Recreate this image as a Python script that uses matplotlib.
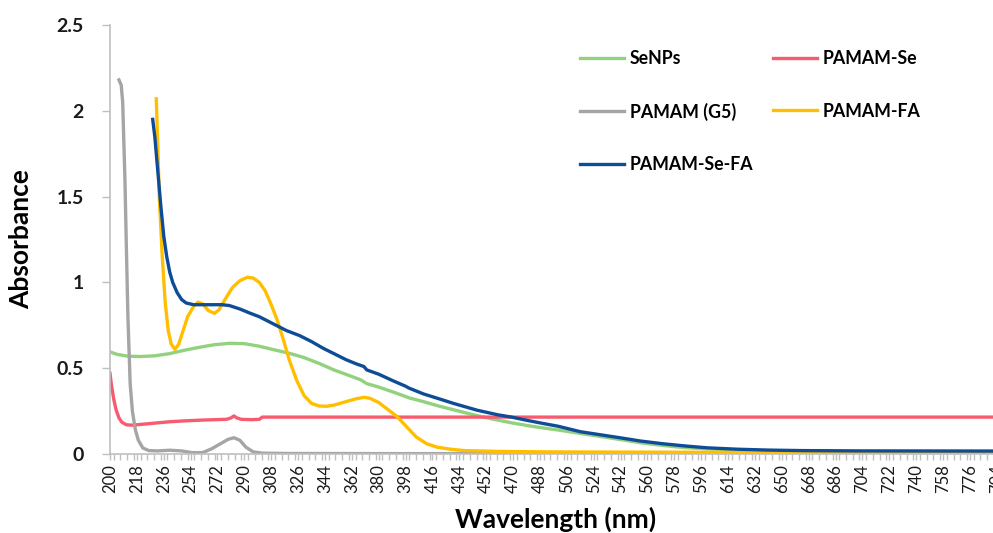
import numpy as np
import matplotlib
matplotlib.use('Agg')
import matplotlib.pyplot as plt
from matplotlib.ticker import MultipleLocator

plt.rcParams['font.family'] = ['Lato', 'DejaVu Sans']

# values (wavelength nm, absorbance)
senps_wl = [200, 205, 212, 220, 230, 240, 250, 260, 270, 280, 290, 300, 310, 320, 330,
            340, 350, 360, 368, 372, 380, 390, 398, 400, 410, 420, 430, 440, 450, 460,
            470, 480, 490, 500, 515, 530, 545, 555, 570, 585, 600, 620, 650, 700, 791]
senps_abs = [0.595, 0.58, 0.57, 0.568, 0.572, 0.585, 0.605, 0.622, 0.637, 0.645, 0.643, 0.628,
             0.607, 0.587, 0.562, 0.528, 0.49, 0.458, 0.432, 0.41, 0.39, 0.36, 0.335, 0.328,
             0.305, 0.28, 0.258, 0.236, 0.215, 0.197, 0.18, 0.165, 0.152, 0.14, 0.12, 0.1,
             0.08, 0.066, 0.05, 0.037, 0.03, 0.022, 0.017, 0.015, 0.015]

pse_wl = [200, 201, 202.5, 204, 206, 208, 211, 215, 220, 230, 240, 250, 260, 270, 278,
          281, 283, 285, 288, 295, 300, 302, 400, 600, 791]
pse_abs = [0.47, 0.4, 0.32, 0.26, 0.21, 0.185, 0.17, 0.168, 0.172, 0.18, 0.188, 0.193,
           0.197, 0.2, 0.202, 0.21, 0.222, 0.21, 0.202, 0.2, 0.202, 0.215, 0.215, 0.215, 0.215]

g5_wl = [206, 207.5, 208.5, 210, 211, 212, 213.5, 215, 217, 219, 222, 226, 232, 240, 248,
         255, 262, 268, 274, 279, 283, 287, 291, 296, 302, 320, 400, 500, 600, 700, 791]
g5_abs = [2.18, 2.15, 2.05, 1.6, 1.19, 0.8, 0.41, 0.25, 0.14, 0.08, 0.035, 0.02, 0.018, 0.022,
          0.018, 0.008, 0.008, 0.03, 0.06, 0.085, 0.095, 0.08, 0.04, 0.012, 0.005, 0.003,
          0.002, 0.002, 0.002, 0.002, 0.002]

pfa_wl = [231, 232, 233, 235, 237, 239, 241, 243.5, 246, 249, 252, 256, 259, 262, 266, 270,
          273, 277, 282, 287, 292, 296, 300, 304, 308, 312, 316, 320, 325, 330, 335, 340,
          345, 350, 358, 365, 370, 374, 380, 386, 392, 398, 405, 412, 419, 428, 437, 460,
          500, 600, 700, 791]
pfa_abs = [2.07, 1.8, 1.5, 1.15, 0.88, 0.72, 0.64, 0.61, 0.64, 0.72, 0.8, 0.86, 0.885, 0.875,
           0.835, 0.82, 0.84, 0.9, 0.97, 1.01, 1.03, 1.025, 1.0, 0.95, 0.87, 0.78, 0.67, 0.55,
           0.43, 0.34, 0.295, 0.28, 0.278, 0.285, 0.305, 0.322, 0.33, 0.325, 0.3, 0.26, 0.22,
           0.165, 0.1, 0.06, 0.04, 0.028, 0.02, 0.015, 0.012, 0.01, 0.008, 0.008]

psefa_wl = [228.6, 230, 232, 234, 236, 238, 240, 242, 245, 248, 251, 256, 265, 275, 280, 287,
            294, 300, 309, 318, 327, 335, 343, 350, 358, 365, 370, 372, 380, 390, 398, 400,
            410, 421, 430, 446, 460, 469, 480, 490, 500, 515, 530, 545, 555, 570, 585, 600,
            620, 640, 662, 700, 791]
psefa_abs = [1.95, 1.85, 1.65, 1.45, 1.27, 1.15, 1.06, 1.0, 0.94, 0.9, 0.88, 0.87, 0.87, 0.87,
             0.865, 0.845, 0.82, 0.8, 0.76, 0.72, 0.69, 0.655, 0.615, 0.585, 0.55, 0.525, 0.51,
             0.49, 0.465, 0.425, 0.395, 0.385, 0.35, 0.32, 0.295, 0.255, 0.228, 0.215, 0.195,
             0.178, 0.162, 0.13, 0.11, 0.09, 0.076, 0.06, 0.047, 0.036, 0.028, 0.023, 0.02,
             0.018, 0.017]

xticks = list(range(200, 800, 18))

fig = plt.figure(figsize=(9.93, 5.33), dpi=100)
ax = fig.add_axes([110 / 993, 79 / 533, 895.8 / 993, 429 / 533])

lw = 2.4
l1, = ax.plot(senps_wl, senps_abs, color='#92D27E', lw=lw, label='SeNPs')
l2, = ax.plot(pse_wl, pse_abs, color='#F75B70', lw=lw, label='PAMAM-Se')
l3, = ax.plot(g5_wl, g5_abs, color='#A5A5A5', lw=lw, label='PAMAM (G5)')
l4, = ax.plot(pfa_wl, pfa_abs, color='#FFBF00', lw=lw, label='PAMAM-FA')
l5, = ax.plot(psefa_wl, psefa_abs, color='#0E4C97', lw=lw, label='PAMAM-Se-FA')

ax.set_xlim(200, 800)
ax.set_ylim(0, 2.5)
ax.set_xticks(xticks)
ax.set_xticklabels([str(t) for t in xticks], rotation=90, fontsize=12)
ax.xaxis.set_minor_locator(MultipleLocator(4.5))
ax.set_yticks([0, 0.5, 1, 1.5, 2, 2.5])
ax.set_yticklabels(['0', '0.5', '1', '1.5', '2', '2.5'], fontsize=14, fontweight='bold')

for s in ['top', 'right']:
    ax.spines[s].set_visible(False)
for s in ['left', 'bottom']:
    ax.spines[s].set_color('#BFBFBF')
    ax.spines[s].set_linewidth(1.2)
ax.tick_params(axis='both', which='both', length=4, width=1, colors='#BFBFBF')
ax.tick_params(axis='y', length=6)
ax.tick_params(axis='both', labelcolor='#1a1a1a')
ax.tick_params(axis='x', pad=3)
ax.tick_params(axis='y', pad=13)

ax.set_xlabel('Wavelength (nm)', fontsize=19, fontweight='bold')
ax.set_ylabel('Absorbance', fontsize=19, fontweight='bold')
ax.xaxis.set_label_coords(0.497, -0.123)
ax.yaxis.set_label_coords(-0.086, 0.5)

ax.legend(handles=[l1, l3, l5, l2, l4], ncol=2, frameon=False,
          loc='upper left', bbox_to_anchor=(580 / 993, 1 - 50 / 533),
          bbox_transform=fig.transFigure, borderpad=0, borderaxespad=0,
          prop={'weight': 'bold', 'size': 12.8},
          handlelength=2.5, handletextpad=0.3, labelspacing=2.0, columnspacing=1.1)

fig.savefig('out.png', dpi=100)
